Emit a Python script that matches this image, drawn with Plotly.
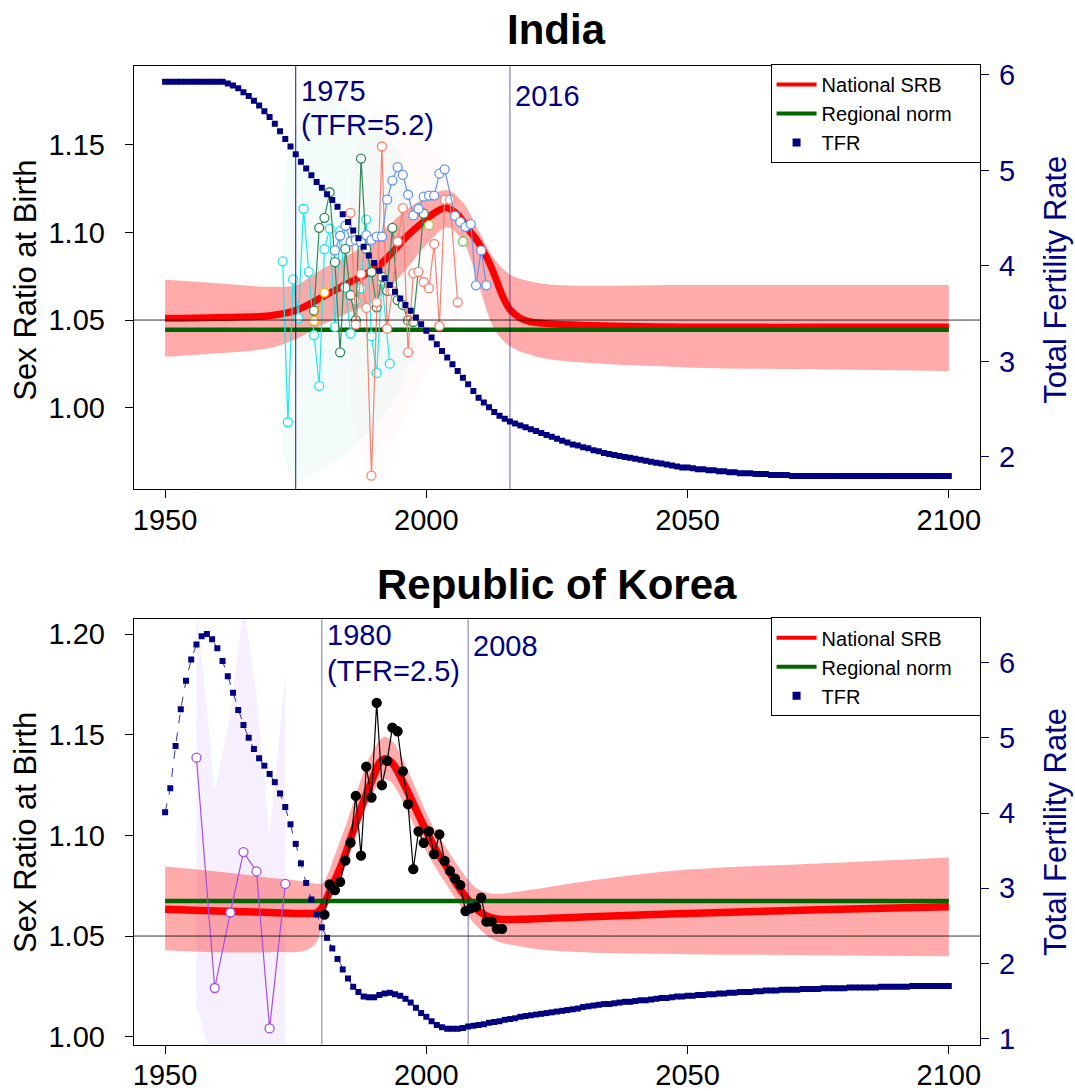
import plotly.graph_objects as go

# ---------------- data ----------------
YEARS = list(range(1950, 2101))

INDIA_TFR = [
    5.93, 5.93, 5.93, 5.93, 5.93, 5.93, 5.93, 5.93, 5.93, 5.93,   # 1950s
    5.93, 5.93, 5.91, 5.89, 5.86, 5.82, 5.78, 5.73, 5.68, 5.62,   # 1960s
    5.56, 5.49, 5.41, 5.33, 5.25, 5.17, 5.09, 5.02, 4.95, 4.88,   # 1970s
    4.82, 4.75, 4.69, 4.62, 4.54, 4.46, 4.37, 4.29, 4.20, 4.11,   # 1980s
    4.03, 3.95, 3.87, 3.80, 3.73, 3.66, 3.59, 3.53, 3.46, 3.39,   # 1990s
    3.32, 3.25, 3.18, 3.11, 3.04, 2.97, 2.90, 2.83, 2.76, 2.69,   # 2000s
    2.62, 2.57, 2.52, 2.47, 2.43, 2.40, 2.37, 2.35, 2.33, 2.31,   # 2010s
    2.29, 2.27, 2.25, 2.23, 2.21, 2.19, 2.17, 2.15, 2.13, 2.12,   # 2020s
    2.10, 2.09, 2.07, 2.06, 2.04, 2.03, 2.02, 2.01, 2.00, 1.99,   # 2030s
    1.98, 1.97, 1.96, 1.95, 1.94, 1.93, 1.92, 1.91, 1.90, 1.89,   # 2040s
    1.89, 1.88, 1.87, 1.87, 1.86, 1.86, 1.85, 1.85, 1.84, 1.84,   # 2050s
    1.83, 1.83, 1.83, 1.82, 1.82, 1.82, 1.81, 1.81, 1.81, 1.81,   # 2060s
    1.80, 1.80, 1.80, 1.80, 1.80, 1.80, 1.80, 1.80, 1.80, 1.80,   # 2070s
    1.80, 1.80, 1.80, 1.80, 1.80, 1.80, 1.80, 1.80, 1.80, 1.80,   # 2080s
    1.80, 1.80, 1.80, 1.80, 1.80, 1.80, 1.80, 1.80, 1.80, 1.80,   # 2090s
    1.80,                                                         # 2100
]

KOREA_TFR = [
    4.01, 4.33, 4.89, 5.38, 5.76, 6.04, 6.24, 6.35, 6.38, 6.31,   # 1950s
    6.19, 6.02, 5.82, 5.60, 5.37, 5.17, 5.00, 4.85, 4.73, 4.63,   # 1960s
    4.52, 4.41, 4.26, 4.08, 3.85, 3.59, 3.33, 3.07, 2.85, 2.65,   # 1970s
    2.48, 2.34, 2.20, 2.06, 1.92, 1.80, 1.69, 1.62, 1.56, 1.55,   # 1980s
    1.55, 1.58, 1.60, 1.61, 1.59, 1.57, 1.53, 1.48, 1.41, 1.34,   # 1990s
    1.29, 1.23, 1.18, 1.15, 1.13, 1.13, 1.13, 1.14, 1.16, 1.17,   # 2000s
    1.18, 1.19, 1.21, 1.22, 1.23, 1.25, 1.26, 1.27, 1.29, 1.30,   # 2010s
    1.31, 1.32, 1.33, 1.34, 1.35, 1.36, 1.37, 1.38, 1.39, 1.40,   # 2020s
    1.42, 1.43, 1.44, 1.45, 1.46, 1.46, 1.47, 1.48, 1.49, 1.49,   # 2030s
    1.50, 1.51, 1.51, 1.52, 1.53, 1.54, 1.54, 1.55, 1.56, 1.56,   # 2040s
    1.57, 1.57, 1.58, 1.58, 1.59, 1.59, 1.60, 1.60, 1.61, 1.61,   # 2050s
    1.62, 1.62, 1.62, 1.63, 1.63, 1.64, 1.64, 1.64, 1.65, 1.65,   # 2060s
    1.65, 1.65, 1.66, 1.66, 1.66, 1.66, 1.67, 1.67, 1.67, 1.67,   # 2070s
    1.67, 1.68, 1.68, 1.68, 1.68, 1.68, 1.68, 1.69, 1.69, 1.69,   # 2080s
    1.69, 1.69, 1.69, 1.70, 1.70, 1.70, 1.70, 1.70, 1.70, 1.70,   # 2090s
    1.70,                                                         # 2100
]

# India national SRB (median) and 95% band
INDIA_SRB_YEARS = [1950, 1960, 1970, 1975, 1980, 1985, 1990, 1993, 1996, 1999, 2002, 2004,
                   2006, 2008, 2010, 2012, 2013, 2014, 2015, 2016, 2018, 2020, 2023, 2030,
                   2050, 2075, 2100]
INDIA_SRB = [1.051, 1.0515, 1.0525, 1.0555, 1.063, 1.071, 1.079, 1.087, 1.097, 1.105, 1.112, 1.114,
             1.110, 1.102, 1.094, 1.083, 1.076, 1.068, 1.061, 1.056, 1.051, 1.049, 1.048, 1.047,
             1.046, 1.046, 1.046]
INDIA_BAND_YEARS = [1950, 1960, 1970, 1975, 1980, 1985, 1990, 1995, 2000, 2004, 2007, 2010,
                    2013, 2016, 2020, 2025, 2050, 2075, 2100]
INDIA_LOWER = [1.029, 1.031, 1.034, 1.039, 1.047, 1.054, 1.061, 1.075, 1.093, 1.103, 1.095, 1.070,
               1.045, 1.035, 1.030, 1.027, 1.023, 1.022, 1.021]
INDIA_UPPER = [1.073, 1.071, 1.069, 1.070, 1.079, 1.087, 1.096, 1.110, 1.120, 1.124, 1.117, 1.101,
               1.085, 1.076, 1.072, 1.070, 1.070, 1.070, 1.070]
INDIA_NORM = 1.0444

# India observations by data source
IN_CYAN_YEARS = [1972.5, 1973.5, 1974.5, 1975.5, 1976.5, 1977.5, 1978.5, 1979.5, 1980.5, 1981.5,
                 1982.5, 1983.5, 1984.5, 1985.5, 1986.5, 1987.5, 1988.5, 1989.5, 1990.5, 1991.5,
                 1993.0]
IN_CYAN_SRB = [1.0835, 0.9917, 1.0732, 1.0511, 1.1135, 1.0775, 1.0414, 1.0124, 1.0904, 1.1022,
               1.0461, 1.1007, 1.0685, 1.0423, 1.0611, 1.0682, 1.1073, 1.0408, 1.0198, 1.0723,
               1.0251]
IN_GREEN_YEARS = [1978.5, 1979.5, 1980.5, 1981.5, 1982.5, 1983.5, 1984.5, 1985.5, 1986.5, 1987.5,
                  1988.5, 1989.5, 1990.5, 1991.5, 1992.5, 1993.5, 1994.5, 1995.5, 1996.5, 1997.5,
                  1999.5]
IN_GREEN_SRB = [1.0554, 1.1026, 1.1083, 1.1229, 1.0830, 1.0316, 1.0906, 1.0642, 1.0498, 1.1421,
                1.0906, 1.0774, 1.0573, 1.0746, 1.0667, 1.1026, 1.0614, 1.0586, 1.0498, 1.0489,
                1.1107]
IN_BLUE_YEARS = [1982.5, 1983.5, 1984.5, 1985.5, 1986.5, 1987.5, 1988.5, 1989.5, 1990.5, 1991.5,
                 1992.5, 1993.5, 1994.5, 1995.5, 1996.5, 1997.5, 1998.5, 1999.5, 2000.5, 2001.5,
                 2002.5, 2003.5, 2005.5, 2006.5, 2007.5, 2008.5, 2009.5, 2010.5, 2011.5]
IN_BLUE_SRB = [1.0897, 1.0981, 1.1038, 1.0948, 1.0957, 1.0944, 1.0985, 1.0957, 1.0976, 1.0976,
               1.1187, 1.1296, 1.1373, 1.1328, 1.1215, 1.1097, 1.1135, 1.1204, 1.1210, 1.1210,
               1.1335, 1.1360, 1.1094, 1.1060, 1.1032, 1.1047, 1.0698, 1.0897, 1.0698]
IN_SALMON_YEARS = [1985.5, 1986.5, 1987.5, 1988.5, 1989.5, 1990.5, 1991.5, 1992.5, 1993.5, 1994.5,
                   1995.5, 1996.5, 1997.5, 1998.5, 1999.5, 2000.5, 2001.5, 2002.5, 2003.5, 2004.5,
                   2006.0]
IN_SALMON_SRB = [1.1112, 1.0474, 1.0764, 1.0569, 0.9612, 1.0601, 1.1490, 1.0451, 1.0667, 1.0948,
                 1.1139, 1.0316, 1.0766, 1.0775, 1.0717, 1.0682, 1.0934, 1.0466, 1.1187, 1.1187,
                 1.0601]
IN_ORANGE_YEARS = [1978.5, 1980.5]
IN_ORANGE_SRB = [1.0494, 1.0657]
IN_YGREEN_YEARS = [2000.5]
IN_YGREEN_SRB = [1.1041]
IN_LGREEN_YEARS = [2007.0]
IN_LGREEN_SRB = [1.0948]

# faint sampling-uncertainty hazes (India)
IN_HAZE1_YEARS = [1972.5, 1975, 1980, 1985, 1990, 1995, 1997.5]
IN_HAZE1_LO = [0.975, 0.958, 0.965, 0.975, 0.990, 1.010, 1.035]
IN_HAZE1_HI = [1.110, 1.160, 1.175, 1.170, 1.160, 1.145, 1.100]
IN_HAZE2_YEARS = [1985.5, 1990, 1995, 2000, 2006]
IN_HAZE2_LO = [1.000, 0.960, 0.990, 1.020, 1.045]
IN_HAZE2_HI = [1.130, 1.170, 1.165, 1.155, 1.120]

# Korea national SRB and band
KOREA_SRB_YEARS = [1950, 1960, 1970, 1977, 1979, 1980, 1982, 1984, 1986, 1988, 1990, 1991, 1992,
                   1993, 1994, 1996, 1998, 2000, 2002, 2004, 2006, 2008, 2010, 2012, 2014, 2020,
                   2030, 2050, 2075, 2100]
KOREA_SRB = [1.0633, 1.0625, 1.0617, 1.0612, 1.0615, 1.064, 1.075, 1.087, 1.102, 1.117, 1.130,
             1.136, 1.138, 1.137, 1.134, 1.124, 1.113, 1.102, 1.092, 1.084, 1.075, 1.068, 1.0625,
             1.0595, 1.0583, 1.0585, 1.0595, 1.0612, 1.063, 1.0645]
KOREA_BAND_YEARS = [1950, 1960, 1970, 1977, 1979, 1980, 1981, 1983, 1985, 1987, 1989, 1991, 1992,
                    1993, 1994, 1996, 1998, 2000, 2002, 2004, 2006, 2008, 2010, 2013, 2020, 2030,
                    2050, 2075, 2100]
KOREA_LOWER = [1.043, 1.042, 1.042, 1.043, 1.047, 1.056, 1.066, 1.079, 1.092, 1.105, 1.117, 1.126,
               1.128, 1.127, 1.124, 1.114, 1.103, 1.092, 1.083, 1.075, 1.067, 1.060, 1.054, 1.048,
               1.044, 1.042, 1.041, 1.0405, 1.040]
KOREA_UPPER = [1.0845, 1.082, 1.079, 1.077, 1.076, 1.076, 1.080, 1.094, 1.108, 1.124, 1.138, 1.147,
               1.149, 1.148, 1.145, 1.135, 1.123, 1.111, 1.101, 1.093, 1.085, 1.078, 1.073, 1.071,
               1.073, 1.077, 1.083, 1.086, 1.089]
KOREA_NORM = 1.0674

KR_BLACK_YEARS = [1980.5 + i for i in range(35)]
KR_BLACK_SRB = [1.0606, 1.0756, 1.0728, 1.0769, 1.0875, 1.0964, 1.1196, 1.0899, 1.1341, 1.1188,
                1.1658, 1.1249, 1.1370, 1.1535, 1.1517, 1.1318, 1.1155, 1.0832, 1.1020, 1.0963,
                1.1020, 1.0907, 1.1005, 1.0873, 1.0824, 1.0785, 1.0753, 1.0624, 1.0637, 1.0645,
                1.0691, 1.0572, 1.0572, 1.0536, 1.0536]
KR_PURPLE_YEARS = [1956.0, 1959.5, 1962.5, 1965.0, 1967.5, 1970.0, 1973.0]
KR_PURPLE_SRB = [1.1386, 1.0242, 1.0617, 1.0917, 1.0821, 1.0041, 1.0759]
KR_PHAZE_YEARS = [1956.0, 1959.5, 1962.5, 1965.0, 1967.5, 1970.0, 1973.0]
KR_PHAZE_LO = [1.015, 0.985, 0.985, 0.985, 0.985, 0.985, 0.985]
KR_PHAZE_HI = [1.215, 1.122, 1.160, 1.215, 1.170, 1.100, 1.180]

LEGEND_NAMES = ["National SRB", "Regional norm", "TFR"]

# ---------------- figure ----------------
FONT = "Liberation Sans, Arial, sans-serif"
W, H = 1075, 1091
NAVY = "#000080"
BAND = "rgba(255,0,0,0.33)"

fig = go.Figure()


def add_band(xs, lo, hi, color, xa, ya, shape="spline"):
    fig.add_trace(go.Scatter(x=xs, y=lo, mode="lines", line=dict(width=0, shape=shape),
                             showlegend=False, hoverinfo="skip", xaxis=xa, yaxis=ya))
    fig.add_trace(go.Scatter(x=xs, y=hi, mode="lines", line=dict(width=0, shape=shape),
                             fill="tonexty", fillcolor=color, showlegend=False,
                             hoverinfo="skip", xaxis=xa, yaxis=ya))


def add_obs(xs, ys, color, xa, ya, size=9, fill="white"):
    fig.add_trace(go.Scatter(x=xs, y=ys, mode="lines+markers",
                             line=dict(color=color, width=1.2),
                             marker=dict(symbol="circle", size=size, color=fill,
                                         line=dict(color=color, width=1.3)),
                             showlegend=False, hoverinfo="skip", xaxis=xa, yaxis=ya))


# ----- India -----
add_band(INDIA_BAND_YEARS, INDIA_LOWER, INDIA_UPPER, BAND, "x", "y")
add_band(IN_HAZE1_YEARS, IN_HAZE1_LO, IN_HAZE1_HI, "rgba(0,190,160,0.045)", "x", "y")
add_band(IN_HAZE2_YEARS, IN_HAZE2_LO, IN_HAZE2_HI, "rgba(250,128,114,0.035)", "x", "y")
fig.add_trace(go.Scatter(x=INDIA_SRB_YEARS, y=INDIA_SRB, mode="lines",
                         line=dict(color="red", width=7, shape="spline"),
                         showlegend=False, hoverinfo="skip", xaxis="x", yaxis="y"))
fig.add_trace(go.Scatter(x=[1950, 2100], y=[INDIA_NORM, INDIA_NORM], mode="lines",
                         line=dict(color="#006400", width=4.5),
                         showlegend=False, hoverinfo="skip", xaxis="x", yaxis="y"))
add_obs(IN_CYAN_YEARS, IN_CYAN_SRB, "#1ee8ee", "x", "y")
add_obs(IN_GREEN_YEARS, IN_GREEN_SRB, "#2e8b57", "x", "y")
add_obs(IN_SALMON_YEARS, IN_SALMON_SRB, "#fa8072", "x", "y")
add_obs(IN_BLUE_YEARS, IN_BLUE_SRB, "#6495ed", "x", "y")
add_obs(IN_ORANGE_YEARS, IN_ORANGE_SRB, "#ffa500", "x", "y")
add_obs(IN_YGREEN_YEARS, IN_YGREEN_SRB, "#9acd32", "x", "y")
add_obs(IN_LGREEN_YEARS, IN_LGREEN_SRB, "#66cc66", "x", "y")
fig.add_trace(go.Scatter(x=YEARS, y=INDIA_TFR, mode="markers",
                         marker=dict(symbol="square", size=6, color=NAVY),
                         showlegend=False, hoverinfo="skip", xaxis="x", yaxis="y2"))

# ----- Korea -----
add_band(KR_PHAZE_YEARS, KR_PHAZE_LO, KR_PHAZE_HI, "rgba(160,80,230,0.09)", "x2", "y3", "linear")
add_band(KOREA_BAND_YEARS, KOREA_LOWER, KOREA_UPPER, BAND, "x2", "y3")
fig.add_trace(go.Scatter(x=KOREA_SRB_YEARS, y=KOREA_SRB, mode="lines",
                         line=dict(color="red", width=7.5, shape="spline"),
                         showlegend=False, hoverinfo="skip", xaxis="x2", yaxis="y3"))
fig.add_trace(go.Scatter(x=[1950, 2100], y=[KOREA_NORM, KOREA_NORM], mode="lines",
                         line=dict(color="#006400", width=4.5),
                         showlegend=False, hoverinfo="skip", xaxis="x2", yaxis="y3"))
add_obs(KR_PURPLE_YEARS, KR_PURPLE_SRB, "#a64ee0", "x2", "y3")
add_obs(KR_BLACK_YEARS, KR_BLACK_SRB, "black", "x2", "y3", size=9, fill="black")
fig.add_trace(go.Scatter(x=YEARS, y=KOREA_TFR, mode="lines+markers",
                         line=dict(color=NAVY, width=0.8, dash="dash"),
                         marker=dict(symbol="square", size=6, color=NAVY),
                         showlegend=False, hoverinfo="skip", xaxis="x2", yaxis="y4"))

# ----- legend entries -----
PAD = "&nbsp;" * 4
for lg, xa, ya in (("legend", "x", "y"), ("legend2", "x2", "y3")):
    fig.add_trace(go.Scatter(x=[None], y=[None], mode="lines", name=LEGEND_NAMES[0],
                             line=dict(color="red", width=4), legend=lg, xaxis=xa, yaxis=ya))
    fig.add_trace(go.Scatter(x=[None], y=[None], mode="lines", name=LEGEND_NAMES[1] + PAD,
                             line=dict(color="#006400", width=4), legend=lg, xaxis=xa, yaxis=ya))
    fig.add_trace(go.Scatter(x=[None], y=[None], mode="markers", name=LEGEND_NAMES[2],
                             marker=dict(symbol="square", size=8, color=NAVY),
                             legend=lg, xaxis=xa, yaxis=ya))

# ----- axes -----
XD = [133 / W, 981 / W]
Y1D = [1 - 490 / H, 1 - 60 / H]
Y2D = [1 - 1054 / H, 1 - 622 / H]

tick_font = dict(family=FONT, size=29, color="black")
xcommon = dict(range=[1944, 2106], tickvals=[1950, 2000, 2050, 2100], ticks="outside",
               ticklen=8, tickcolor="black", showline=True, linecolor="black", linewidth=1,
               mirror=True, showgrid=False, zeroline=False, tickfont=tick_font, domain=XD,
               ticklabelstandoff=-3)
ycommon = dict(ticks="outside", ticklen=8, tickcolor="black", showline=True, linecolor="black",
               linewidth=1, mirror=True, showgrid=False, zeroline=False, tickfont=tick_font,
               ticklabelstandoff=14)
rcommon = dict(ticks="outside", ticklen=8, tickcolor=NAVY, showline=False, showgrid=False,
               zeroline=False, tickfont=dict(family=FONT, size=29, color=NAVY),
               side="right", ticklabelstandoff=4)

legend_common = dict(xanchor="left", yanchor="top", bgcolor="white", bordercolor="black",
                     borderwidth=1, font=dict(family=FONT, size=20), tracegroupgap=0,
                     itemwidth=40, traceorder="normal")

fig.update_layout(
    width=W, height=H, autosize=False,
    margin=dict(l=0, r=0, t=0, b=0),
    paper_bgcolor="white", plot_bgcolor="white",
    font=dict(family=FONT, color="black"),
    xaxis=dict(anchor="y", **xcommon),
    yaxis=dict(anchor="x", domain=Y1D, range=[0.9534, 1.1949],
               tickvals=[1.00, 1.05, 1.10, 1.15], ticktext=["1.00", "1.05", "1.10", "1.15"],
               **ycommon),
    yaxis2=dict(anchor="x", overlaying="y", range=[1.66, 6.093], tickvals=[2, 3, 4, 5, 6],
                **rcommon),
    xaxis2=dict(anchor="y3", **xcommon),
    yaxis3=dict(anchor="x2", domain=Y2D, range=[0.9961, 1.2073],
                tickvals=[1.00, 1.05, 1.10, 1.15, 1.20],
                ticktext=["1.00", "1.05", "1.10", "1.15", "1.20"], **ycommon),
    yaxis4=dict(anchor="x2", overlaying="y3", range=[0.921, 6.576], tickvals=[1, 2, 3, 4, 5, 6],
                **rcommon),
    legend=dict(x=771 / W, y=1 - 58 / H, **legend_common),
    legend2=dict(x=771 / W, y=1 - 620 / H, **legend_common),
    showlegend=True,
)

# ----- reference lines -----
shapes = []
for ya in ("y", "y3"):
    xa = "x" if ya == "y" else "x2"
    shapes.append(dict(type="line", xref=f"{xa} domain", yref=ya, x0=0, x1=1, y0=1.05, y1=1.05,
                       line=dict(color="rgba(0,0,0,0.8)", width=1), layer="above"))
for xa, yr, yrs, col in (("x", "y domain", 1975, "rgba(0,0,128,0.9)"),
                         ("x", "y domain", 2016, "rgba(0,0,128,0.6)"),
                         ("x2", "y3 domain", 1980, "rgba(0,0,128,0.55)"),
                         ("x2", "y3 domain", 2008, "rgba(0,0,128,0.55)")):
    shapes.append(dict(type="line", xref=xa, yref=yr, x0=yrs, x1=yrs, y0=0, y1=1,
                       line=dict(color=col, width=1), layer="above"))
fig.update_layout(shapes=shapes)

# ----- text -----
ann = []


def txt(text, x, y, size, color="black", xanchor="center", bold=False, angle=0, xref="paper"):
    ann.append(dict(text=f"<b>{text}</b>" if bold else text, x=x, y=1 - y / H, xref=xref,
                    yref="paper", xanchor=xanchor, yanchor="middle", showarrow=False,
                    textangle=angle, font=dict(family=FONT, size=size, color=color)))


txt("India", 557 / W, 23, 42, bold=True)
txt("Republic of Korea", 557 / W, 587, 42, bold=True)
txt("Sex Ratio at Birth", 25 / W, 277, 31, angle=-90)
txt("Sex Ratio at Birth", 25 / W, 838, 31, angle=-90)
txt("Total Fertility Rate", 1057 / W, 277, 31, color=NAVY, angle=-90)
txt("Total Fertility Rate", 1057 / W, 838, 31, color=NAVY, angle=-90)
# year markers
for xa, year, lines in (("x", 1975, [("1975", 85), ("(TFR=5.2)", 120)]),
                        ("x", 2016, [("2016", 90)]),
                        ("x2", 1980, [("1980", 638), ("(TFR=2.5)", 675)]),
                        ("x2", 2008, [("2008", 649)])):
    for t, yp in lines:
        ann.append(dict(text=t, x=year, y=1 - yp / H, xref=xa, yref="paper", xanchor="left",
                        yanchor="middle", xshift=3, showarrow=False,
                        font=dict(family=FONT, size=29, color=NAVY)))
fig.update_layout(annotations=ann)

fig.write_html("out.html")
